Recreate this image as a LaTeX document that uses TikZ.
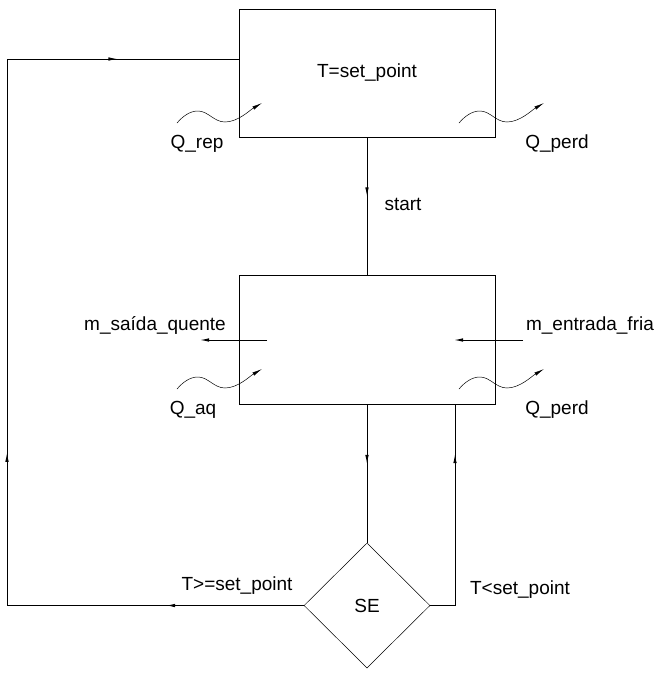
\documentclass[tikz,border=0pt]{standalone}
\usepackage{fontspec}
\setmainfont{Liberation Sans}
\usetikzlibrary{shapes.geometric, arrows.meta, decorations.markings}
\tikzstyle{block} = [rectangle, draw=black, line width=0.9pt, minimum width=256pt, minimum height=128pt, inner sep=0pt, font=\fontsize{19}{22}\selectfont]
\tikzstyle{decision} = [diamond, draw=black, line width=0.5pt, minimum width=126pt, minimum height=125pt, inner sep=0pt, font=\fontsize{19}{22}\selectfont]
\tikzstyle{lbl} = [inner sep=0pt, font=\fontsize{19}{22}\selectfont]
\tikzstyle{line} = [line width=0.9pt]
\tikzstyle{arrow} = [line width=0.9pt, -{Latex[length=9pt,width=3.5pt]}]
\tikzstyle{heatflow} = [line width=0.5pt, -{Latex[length=10pt,width=3.5pt]}]
\tikzset{flowmark/.style={postaction={decorate, decoration={markings,
  mark=at position #1 with {\arrow{Latex[length=9pt,width=3.5pt]}}}}}}

\begin{document}
\begin{tikzpicture}[x=1pt, y=-1pt]
\useasboundingbox (0,0) rectangle (664,673);

% blocks
\node [block] (tank) at (367,73) {T=set\_point};
\node [block, minimum height=129pt] (heater) at (367,339.5) {};
\node [decision] (se) at (367,605.5) {SE};

% main flow
\draw [line, flowmark=0.43] (tank.south) -- (heater.north);
\draw [line, flowmark=0.43] (heater.south) -- (se.north);
\coordinate (back) at (7,59);
\coordinate (ret) at (239,59);
\draw [line, flowmark=0.128, flowmark=0.418, flowmark=0.887] (se.west) -| (back) -- (ret);
\draw [line, flowmark=0.78] (se.east) -| ([xshift=88pt]heater.south);

% mass flows
\coordinate (hot0) at (267,340);
\coordinate (hot1) at (200,340);
\coordinate (cold0) at (523,340);
\coordinate (cold1) at (454,340);
\draw [arrow] (hot0) -- (hot1);
\draw [arrow] (cold0) -- (cold1);

% heat flows
\foreach \p in {(177,123), (459,123), (177,389), (459,389)}
  \draw [heatflow, shift={\p}] (0,0) .. controls (6,-7) and (13,-12) .. (21,-12)
    .. controls (31,-12) and (37,-1) .. (48,-1)
    .. controls (61,-1) and (73,-13) .. (85,-20);

% labels
\node [lbl] (qrep) at (197,144) {Q\_rep};
\node [lbl] (qperd1) at (557,144) {Q\_perd};
\node [lbl] (start) at (403,204) {start};
\node [lbl] (msq) at (155,325) {m\_saída\_quente};
\node [lbl] (mef) at (590,325) {m\_entrada\_fria};
\node [lbl] (qaq) at (193,410) {Q\_aq};
\node [lbl] (qperd2) at (557,410) {Q\_perd};
\node [lbl] (ge) at (237,586) {T>=set\_point};
\node [lbl] (lt) at (520,590) {T<set\_point};
\end{tikzpicture}
\end{document}
